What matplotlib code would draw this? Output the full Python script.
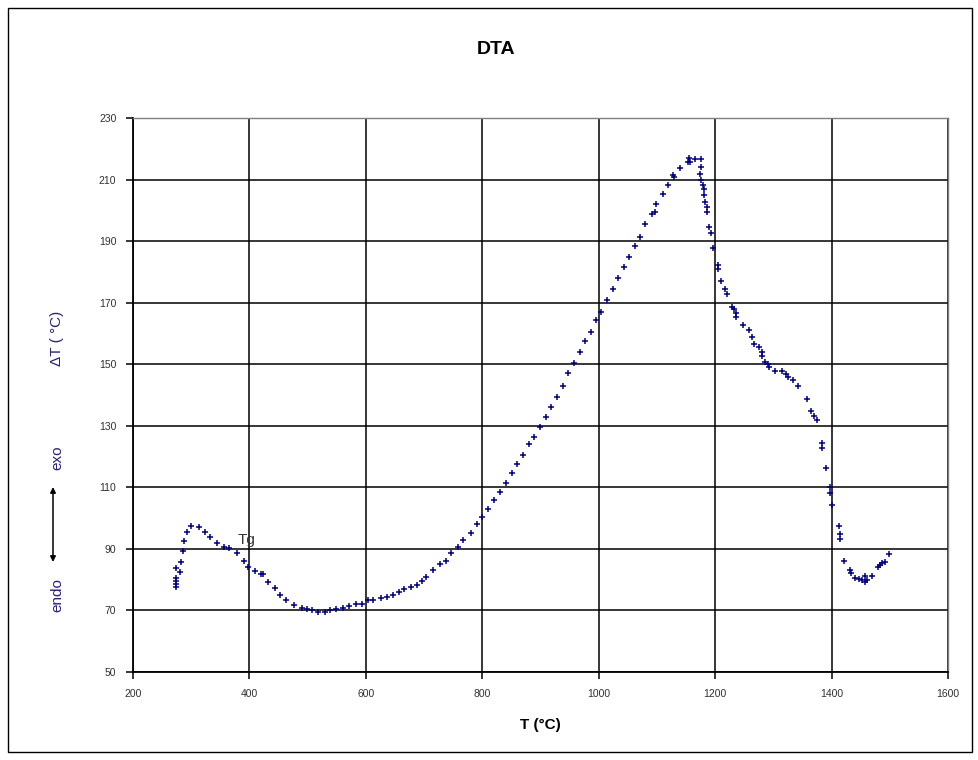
import matplotlib.pyplot as plt
from matplotlib.patches import Rectangle

# DTA curve (T in °C, delta T in °C)
t_low = [274, 274, 274, 274, 273, 280, 282, 285, 288, 292, 299, 313, 324, 332, 344,
         357, 364, 378, 390, 398, 410, 419, 423, 432, 443, 453, 463, 476, 491, 498,
         508, 518, 530, 539, 549, 561, 571, 583, 593, 603, 613, 626, 637, 646, 656,
         665, 677, 687, 696, 704, 716, 727, 738, 747, 759, 766, 780, 790]
dt_low = [77.5, 78.5, 79.5, 80.5, 83.7, 82.6, 85.6, 89.4, 92.7, 95.6, 97.4, 97.1, 95.6, 93.8, 92,
          90.7, 90.2, 88.6, 86.1, 84.1, 82.8, 81.7, 82, 79.3, 77.2, 75, 73.3, 71.7, 70.8, 70.4,
          70, 69.4, 69.4, 70, 70.6, 70.9, 71.3, 72, 72.2, 73.3, 73.3, 73.9, 74.4, 75, 76.1,
          76.9, 77.6, 78.2, 79.7, 80.9, 83.1, 85.2, 86.2, 88.8, 90.6, 92.8, 95.2, 98]

t_rise = [800, 810, 820, 830, 840, 851, 860, 870, 880, 889, 899, 909, 918, 928, 938,
          948, 957, 967, 977, 986, 996, 1004, 1014, 1024, 1033, 1043, 1052, 1062]
dt_rise = [100.5, 103, 106, 108.5, 111.5, 114.5, 117.5, 120.5, 124, 126.5, 129.5, 133, 136, 139.5, 143,
           147, 150.5, 154, 157.5, 160.5, 164.5, 167, 171, 174.5, 178, 181.5, 185, 188.5]

t_peak = [1070, 1080, 1091, 1096, 1099, 1110, 1119, 1127, 1130, 1140, 1153, 1157, 1155, 1166,
          1175, 1175, 1174, 1175, 1179, 1180, 1180, 1183, 1186, 1186, 1189, 1192, 1196]
dt_peak = [191.2, 195.6, 198.9, 199.4, 202, 205.3, 208.4, 211.4, 210.9, 213.7, 215.6, 215.6, 217, 216.7,
           216.7, 214.2, 211.7, 209.8, 208.1, 207, 205, 202.6, 201.2, 199.4, 194.6, 192.8, 187.9]

t_fall = [1204, 1204, 1210, 1217, 1220, 1229, 1232, 1235, 1235, 1248, 1258, 1264, 1267, 1275,
          1280, 1280, 1286, 1290, 1292, 1303, 1315, 1322, 1325, 1334, 1343, 1357, 1365, 1369,
          1375, 1383, 1383, 1391, 1397, 1397, 1401, 1412, 1414, 1414, 1422, 1431, 1434, 1440,
          1447, 1453, 1458, 1458, 1460, 1470, 1479, 1483, 1486, 1492, 1499]
dt_fall = [182.1, 180.8, 176.9, 174.3, 172.7, 168.7, 168, 166.7, 165.2, 162.6, 161, 158.7, 156.6, 155.5,
           154, 152.7, 150.8, 150, 149, 147.9, 147.7, 146.7, 145.8, 144.8, 142.8, 138.8, 134.9, 133.3,
           131.8, 124.3, 122.7, 116.3, 110.2, 108.1, 104.3, 97.4, 94.9, 93.3, 86.2, 83, 82.3, 80.5,
           80.1, 79.9, 81.3, 79.4, 79.9, 81.2, 84.2, 84.7, 85.3, 85.8, 88.2]

x_ticks = list(range(200, 1601, 200))
y_ticks = list(range(50, 231, 20))

plt.rcParams['font.family'] = ['Liberation Sans', 'DejaVu Sans']

fig = plt.figure(figsize=(9.79, 7.6), dpi=100)
ax = fig.add_axes([0.1359, 0.1158, 0.8325, 0.7289])

for xs, ys in [(t_low, dt_low), (t_rise, dt_rise), (t_peak, dt_peak), (t_fall, dt_fall)]:
    ax.plot(xs, ys, linestyle='none', marker='+', color='#000080',
            markersize=4, markeredgewidth=1.1)

ax.set_xlim(200, 1600)
ax.set_ylim(50, 230)
ax.set_xticks(x_ticks)
ax.set_yticks(y_ticks)
ax.grid(True, color='black', linewidth=1.1)
ax.set_axisbelow(True)
ax.tick_params(direction='out', length=5, width=1.1, labelsize=7.5,
               labelcolor='#303030', pad=7)

for side in ['left', 'bottom']:
    ax.spines[side].set_color('black')
    ax.spines[side].set_linewidth(1.3)
for side in ['top', 'right']:
    ax.spines[side].set_color('#808080')
    ax.spines[side].set_linewidth(1.0)

ax.set_xlabel('T (°C)', fontsize=11, fontweight='bold', labelpad=14)

# title sits left of the axes centre in the original
fig.text(496 / 979, 1 - 50 / 760, 'DTA', fontsize=14, fontweight='bold',
         ha='center', va='center')

ax.text(379, 91.5, 'Tg', fontsize=11, color='#333333', va='baseline')

# left side labels
fig.text(57 / 979, 1 - 338 / 760, 'ΔT ( °C)', rotation=90, fontsize=11,
         color='#2a1f7a', ha='center', va='center')
fig.text(57 / 979, 1 - 458 / 760, 'exo', rotation=90, fontsize=11,
         color='#2a1f7a', ha='center', va='center')
fig.text(57 / 979, 1 - 595 / 760, 'endo', rotation=90, fontsize=11,
         color='#2a1f7a', ha='center', va='center')
ax.annotate('', xy=(53 / 979, 1 - 487 / 760), xytext=(53 / 979, 1 - 562 / 760),
            xycoords='figure fraction', textcoords='figure fraction',
            arrowprops=dict(arrowstyle='<|-|>', color='black', lw=1.1,
                            mutation_scale=8, shrinkA=0, shrinkB=0))

# outer chart frame
fig.patches.append(Rectangle((8 / 979, 8 / 760), 964 / 979, 744 / 760,
                             transform=fig.transFigure, fill=False,
                             edgecolor='black', linewidth=1.0))

fig.savefig('out.png', dpi=100)
